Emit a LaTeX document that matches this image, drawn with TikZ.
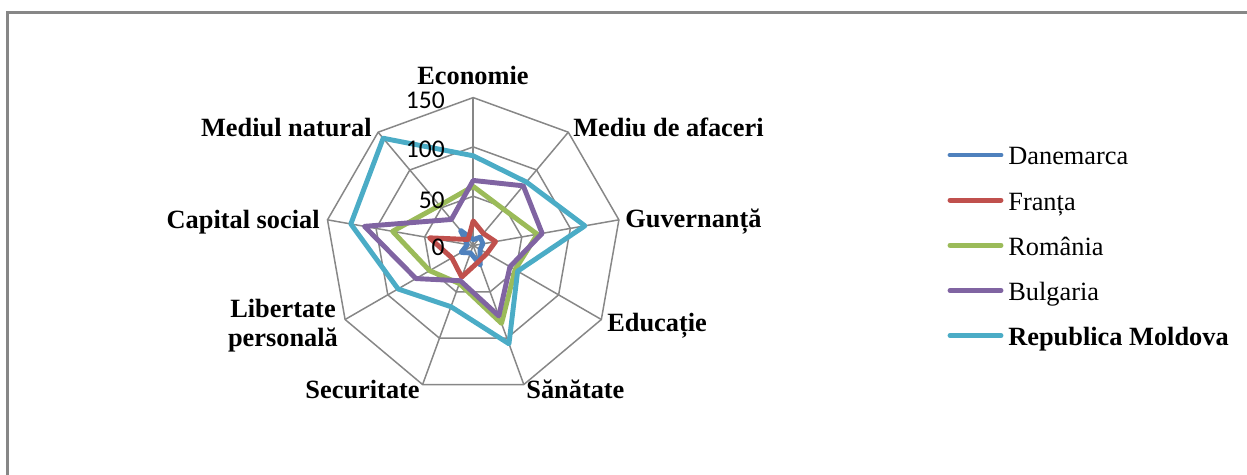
\documentclass[tikz,border=0pt]{standalone}
\usepackage{fontspec}
\setmainfont{Liberation Serif}
\newfontfamily\ticksfont{Carlito}

\definecolor{dan}{HTML}{4F81BD}
\definecolor{fra}{HTML}{C0504D}
\definecolor{rom}{HTML}{9BBB59}
\definecolor{bul}{HTML}{8064A2}
\definecolor{rmd}{HTML}{4BACC6}
\definecolor{gridgray}{HTML}{878787}

\tikzset{
	gridline/.style={draw=gridgray,line width=0.85pt},
	serie/.style={line width=2.8pt,line join=round},
	axislabel/.style={font=\fontsize{15}{16.3}\selectfont\bfseries,inner sep=0pt},
	ticklabel/.style={font=\ticksfont\fontsize{14.5}{16}\selectfont,inner sep=0pt,anchor=east},
	legtext/.style={font=\fontsize{15}{18}\selectfont,inner sep=0pt,anchor=base west},
}

\begin{document}
\begin{tikzpicture}[x=0.02cm,y=0.02cm]
	\useasboundingbox (0,0) rectangle (1247,475);
	\draw[gridgray,line width=1.4pt] (7.5,0) -- (7.5,462.5) -- (1247,462.5);

	\begin{scope}[shift={(9.466cm,4.59cm)},x=0.019733cm,y=0.019733cm]
		\coordinate (c) at (0,0);
		\foreach \r in {50,100,150}
			\draw[gridline] (90:\r) \foreach \i in {1,...,8} {-- (90-40*\i:\r)} -- cycle;
		\foreach \i in {0,...,8}
			\draw[gridline] (c) -- (90-40*\i:150);

		\draw[serie,dan] (90:6) \foreach \v [count=\i] in {11,10,8,21,8,14,6,20} {-- (90-40*\i:\v)} -- cycle;
		\draw[serie,fra] (90:25) \foreach \v [count=\i] in {16,23,16,17,34,25,45,8} {-- (90-40*\i:\v)} -- cycle;
		\draw[serie,rom] (90:60) \foreach \v [count=\i] in {48,66,49,84,41,51,83,53} {-- (90-40*\i:\v)} -- cycle;
		\draw[serie,bul] (90:66) \foreach \v [count=\i] in {79,71,43,76,38,67,112,34.5} {-- (90-40*\i:\v)} -- cycle;
		\draw[serie,rmd] (90:91) \foreach \v [count=\i] in {84,115,52,106,66,88,126,142} {-- (90-40*\i:\v)} -- cycle;
	\end{scope}

	\node[ticklabel] (t150) at (445,375) {150};
	\node[ticklabel] (t100) at (445,325.5) {100};
	\node[ticklabel] (t50) at (445,275) {50};
	\node[ticklabel] (t0) at (445,227.5) {0};

	\node[axislabel,anchor=base] (eco) at (473,390) {Economie};
	\node[axislabel,anchor=base west] (afa) at (573,338.5) {Mediu de afaceri};
	\node[axislabel,anchor=base west] (guv) at (625,247) {Guvernanță};
	\node[axislabel,anchor=base west] (edu) at (607,143) {Educație};
	\node[axislabel,anchor=base west] (san) at (526,76) {Sănătate};
	\node[axislabel,anchor=base east] (sec) at (420,76) {Securitate};
	\node[axislabel,align=center] (lib) at (283,149.5) {Libertate\\personală};
	\node[axislabel,anchor=base east] (cap) at (320,246.7) {Capital social};
	\node[axislabel,anchor=base east] (med) at (372,338.3) {Mediul natural};

	\foreach \name/\col [count=\k from 0] in {Danemarca/dan,Franța/fra,România/rom,Bulgaria/bul,\textbf{Republica Moldova}/rmd} {
		\coordinate (ls\col) at (950,320-45.15*\k);
		\coordinate (le\col) at (1001,320-45.15*\k);
		\node[legtext] (leg\col) at (1008,310-45.15*\k) {\name};
		\draw[serie,\col,line cap=round] (ls\col) -- (le\col);
	}
\end{tikzpicture}
\end{document}
